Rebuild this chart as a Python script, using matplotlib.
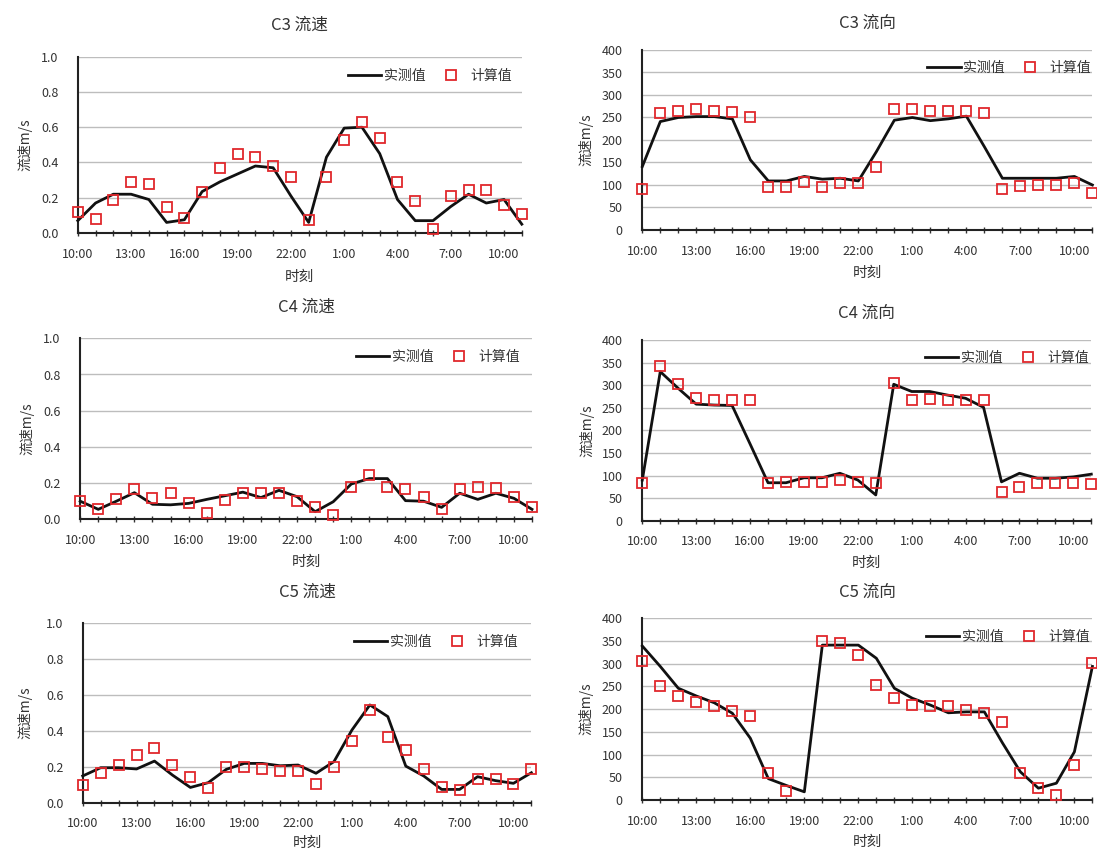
import numpy as np
import matplotlib
matplotlib.use("Agg")
import matplotlib.pyplot as plt

plt.rcParams['font.family'] = ['Noto Sans CJK SC', 'DejaVu Sans']

# ---- data -------------------------------------------------------------
times = ["10:00", "11:00", "12:00", "13:00", "14:00", "15:00", "16:00",
         "17:00", "18:00", "19:00", "20:00", "21:00", "22:00", "23:00",
         "0:00", "1:00", "2:00", "3:00", "4:00", "5:00", "6:00", "7:00",
         "8:00", "9:00", "10:00", "11:00"]
label_every = 3

c3_speed_meas = [0.07, 0.17, 0.22, 0.22, 0.19, 0.06, 0.075, 0.235, 0.29, 0.335,
                 0.38, 0.37, 0.21, 0.06, 0.43, 0.595, 0.60, 0.45, 0.19, 0.07,
                 0.07, 0.15, 0.22, 0.17, 0.19, 0.05]
c3_speed_calc = [0.12, 0.08, 0.19, 0.29, 0.28, 0.15, 0.085, 0.23, 0.37, 0.45,
                 0.43, 0.38, 0.32, 0.075, 0.32, 0.53, 0.63, 0.54, 0.29, 0.18,
                 0.02, 0.21, 0.245, 0.245, 0.16, 0.11]

c3_dir_meas = [141, 241, 250, 252, 252, 247, 156, 109, 109, 119, 113, 115, 109,
               174, 244, 250, 243, 247, 253, 185, 115, 115, 115, 115, 119, 100]
c3_dir_calc = [90, 259, 264, 268, 264, 263, 250, 96, 96, 107, 96, 104, 104,
               141, 268, 268, 264, 264, 264, 261, 90, 98, 101, 101, 104, 83]

c4_speed_meas = [0.10, 0.055, 0.10, 0.147, 0.083, 0.08, 0.088, 0.11, 0.13, 0.15,
                 0.12, 0.16, 0.125, 0.042, 0.097, 0.195, 0.225, 0.225, 0.103, 0.10,
                 0.066, 0.144, 0.11, 0.144, 0.116, 0.055]
c4_speed_calc = [0.10, 0.055, 0.11, 0.166, 0.116, 0.144, 0.092, 0.037, 0.107, 0.148,
                 0.148, 0.148, 0.103, 0.07, 0.022, 0.177, 0.245, 0.177, 0.166, 0.125,
                 0.057, 0.166, 0.177, 0.171, 0.125, 0.066]

c4_dir_meas = [90, 330, 293, 258, 256, 255, 170, 84, 84, 95, 95, 105, 90,
               57, 302, 286, 286, 278, 271, 251, 86, 105, 94, 94, 97, 103]
c4_dir_calc = [83, 342, 302, 271, 267, 267, 267, 83, 86, 86, 86, 89, 86,
               84, 304, 267, 269, 267, 267, 267, 64, 74, 83, 83, 84, 81]

c5_speed_meas = [0.149, 0.195, 0.195, 0.188, 0.232, 0.154, 0.085, 0.112, 0.186, 0.219,
                 0.219, 0.206, 0.21, 0.164, 0.229, 0.405, 0.545, 0.48, 0.204, 0.149,
                 0.074, 0.074, 0.145, 0.123, 0.108, 0.167]
c5_speed_calc = [0.099, 0.167, 0.21, 0.266, 0.307, 0.21, 0.145, 0.08, 0.197, 0.197,
                 0.188, 0.177, 0.177, 0.104, 0.197, 0.344, 0.517, 0.368, 0.294, 0.19,
                 0.089, 0.071, 0.13, 0.13, 0.104, 0.186]

c5_dir_meas = [339, 294, 246, 229, 214, 191, 136, 47, 32, 18, 341, 341, 341,
               312, 246, 224, 209, 192, 194, 194, 126, 62, 26, 37, 106, 294]
c5_dir_calc = [305, 252, 229, 216, 206, 197, 185, 59, 19, np.nan, 349, 345, 319,
               253, 224, 209, 206, 206, 198, 191, 172, 59, 27, 10, 77, 302]

titles = ["C3 流速", "C3 流向", "C4 流速", "C4 流向", "C5 流速", "C5 流向"]
ylabel = "流速m/s"
xlabel = "时刻"
legend_labels = ["实测值", "计算值"]

speed_ticks = [0.0, 0.2, 0.4, 0.6, 0.8, 1.0]
dir_ticks = [0, 50, 100, 150, 200, 250, 300, 350, 400]

# ---- layout (pixels) --------------------------------------------------
W, H = 1097, 849
fig = plt.figure(figsize=(W / 100, H / 100), dpi=100)
fig.patch.set_facecolor("white")

# left, right, top, bottom of each plotting area; title y; legend anchor
panels = [
    dict(box=(77.8, 521.8, 56.7, 233.0), title_y=25, ylab_x=25, xlab_y=277,
         leg=(0.977, 0.892), meas=c3_speed_meas, calc=c3_speed_calc, kind="speed"),
    dict(box=(642.3, 1092.4, 50.0, 230.0), title_y=23, ylab_x=586, xlab_y=273,
         leg=(0.997, 0.900), meas=c3_dir_meas, calc=c3_dir_calc, kind="dir"),
    dict(box=(80.2, 532.0, 338.3, 519.3), title_y=307, ylab_x=27, xlab_y=562,
         leg=(0.973, 0.898), meas=c4_speed_meas, calc=c4_speed_calc, kind="speed"),
    dict(box=(642.3, 1091.3, 340.0, 520.7), title_y=313, ylab_x=587, xlab_y=563,
         leg=(0.994, 0.899), meas=c4_dir_meas, calc=c4_dir_calc, kind="dir"),
    dict(box=(82.7, 531.4, 623.3, 802.7), title_y=592, ylab_x=25, xlab_y=843,
         leg=(0.970, 0.897), meas=c5_speed_meas, calc=c5_speed_calc, kind="speed"),
    dict(box=(642.3, 1092.4, 618.3, 800.0), title_y=592, ylab_x=586, xlab_y=842,
         leg=(0.994, 0.899), meas=c5_dir_meas, calc=c5_dir_calc, kind="dir"),
]

text_color = "#333333"
red = "#e0282c"
x = np.arange(len(times))
xtick_labels = [t if i % label_every == 0 else "" for i, t in enumerate(times)]


def fx(px):
    return px / W


def fy(py):
    return 1 - py / H


for title, p in zip(titles, panels):
    l, r, t, b = p["box"]
    ax = fig.add_axes([fx(l), fy(b), (r - l) / W, (b - t) / H])

    if p["kind"] == "speed":
        ticks = speed_ticks
        ax.set_yticks(ticks)
        ax.set_yticklabels([f"{v:.1f}" for v in ticks])
    else:
        ticks = dir_ticks
        ax.set_yticks(ticks)
        ax.set_yticklabels([str(v) for v in ticks])
    ax.set_ylim(ticks[0], ticks[-1])
    ax.set_xlim(0, len(times) - 1)

    ax.grid(axis="y", color="#bdbdbd", linewidth=1.0)
    ax.set_axisbelow(True)

    ax.plot(x, p["meas"], color="#111111", linewidth=2.0,
            label=legend_labels[0], clip_on=False, zorder=3)
    ax.plot(x, p["calc"], linestyle="none", marker="s", markersize=7,
            markerfacecolor="none", markeredgecolor=red, markeredgewidth=1.3,
            label=legend_labels[1], clip_on=False, zorder=4)

    ax.set_xticks(x)
    ax.set_xticklabels(xtick_labels)
    ax.tick_params(axis="x", direction="inout", length=5, width=1.0,
                   color="#333333", pad=8, labelsize=9, labelcolor=text_color)
    ax.tick_params(axis="y", length=0, pad=14, labelsize=9, labelcolor=text_color)

    for side in ("top", "right"):
        ax.spines[side].set_visible(False)
    for side in ("left", "bottom"):
        ax.spines[side].set_color("#222222")
        ax.spines[side].set_linewidth(1.5)

    cx = (l + r) / 2
    fig.text(fx(cx), fy(p["title_y"]), title, ha="center", va="center",
             fontsize=12, color=text_color)
    fig.text(fx(cx), fy(p["xlab_y"]), xlabel, ha="center", va="center",
             fontsize=10.5, color=text_color)
    fig.text(fx(p["ylab_x"]), fy((t + b) / 2), ylabel, ha="center", va="center",
             rotation=90, fontsize=10, color=text_color)

    ax.legend(loc="center right", bbox_to_anchor=p["leg"], ncol=2,
              frameon=False, fontsize=10, handlelength=2.4, handletextpad=0.2,
              columnspacing=0.6, borderaxespad=0, borderpad=0,
              labelcolor=text_color)

fig.savefig("out.png", dpi=100, facecolor="white")
